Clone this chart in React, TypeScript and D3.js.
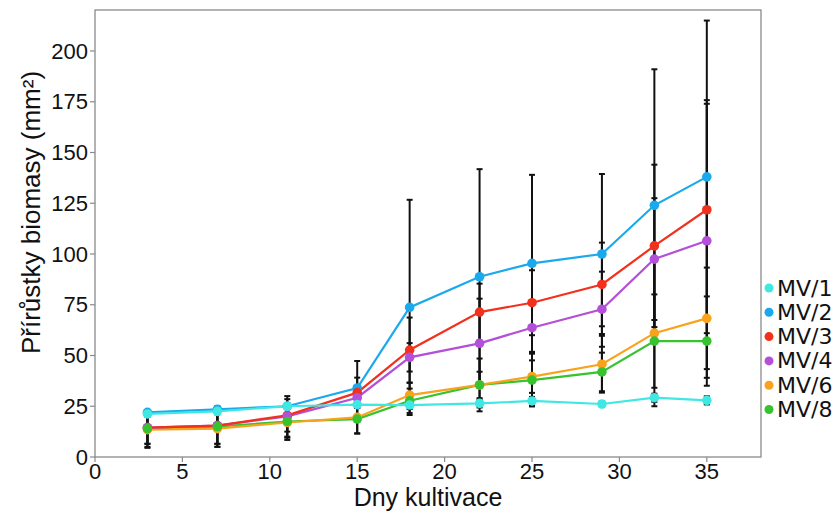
import React from "react";
import * as d3 from "d3";

const days = [3, 7, 11, 15, 18, 22, 25, 29, 32, 35];
const seriesNames = ["MV/1", "MV/2", "MV/3", "MV/4", "MV/6", "MV/8"];
const seriesColors = ["#3fe8e3", "#1aa9ec", "#f2311d", "#b34fd8", "#f9a21c", "#37c22f"];

const mv1 = [21.2, 22.5, 25, 25.8, 25.6, 26.4, 27.6, 26.1, 29.2, 27.9];
const mv2 = [22, 23.5, 25, 34, 73.7, 88.8, 95.4, 100, 124, 138];
const mv3 = [14.5, 15.5, 20.5, 31.7, 52.7, 71.4, 76, 85, 104, 121.8];
const mv4 = [14.5, 15.5, 20, 29.2, 49.1, 56, 63.7, 72.8, 97.5, 106.5];
const mv6 = [13.5, 14, 17, 19.5, 30.5, 35.5, 39.6, 45.7, 61, 68.3];
const mv8 = [14, 15, 17.5, 18.7, 27.7, 35.5, 37.9, 41.9, 57.1, 57.1];

const mv1sd = [1.5, 1.5, 1.4, 1.5, 2, 2, 2, 1.5, 2, 2];
const mv2sd = [1, 1, 1, 13.3, 53, 53, 43.6, 39.4, 67, 77];
const mv3sd = [8, 9, 8, 7.4, 16, 14, 16, 20.6, 40, 54];
const mv4sd = [8, 9, 10, 5, 7, 22, 12.3, 18.5, 30, 67.5];
const mv6sd = [9, 9, 8.6, 8, 6, 13, 8, 14, 36, 25];
const mv8sd = [9, 10, 8, 7, 6, 6.5, 13, 9.5, 23, 22];

const xTicks = [0, 5, 10, 15, 20, 25, 30, 35];
const yTicks = [0, 25, 50, 75, 100, 125, 150, 175, 200];

const seriesValues = [mv1, mv2, mv3, mv4, mv6, mv8];
const seriesSd = [mv1sd, mv2sd, mv3sd, mv4sd, mv6sd, mv8sd];

const W = 837;
const H = 511;
const left = 95;
const right = 761;
const top = 10;
const bottom = 457;

export default function App() {
  const x = d3.scaleLinear().domain([0, 38.1]).range([left, right]);
  const y = d3.scaleLinear().domain([0, 220.2]).range([bottom, top]);
  const line = d3
    .line<number>()
    .x((_, i) => x(days[i]))
    .y((v) => y(v));

  const axisColor = "#8a8a8a";
  const tickFont = "'Liberation Sans', Arial, sans-serif";
  const markerOrder = [1, 2, 3, 4, 5, 0];

  return (
    <svg
      width={W}
      height={H}
      style={{ position: "absolute", left: 0, top: 0, background: "#fff" }}
    >
      {/* frame */}
      <rect
        x={left}
        y={top}
        width={right - left}
        height={bottom - top}
        fill="none"
        stroke={axisColor}
        strokeWidth={1.3}
      />
      {/* y ticks */}
      {yTicks.map((t) => (
        <g key={"y" + t}>
          <line x1={left - 5} x2={left} y1={y(t)} y2={y(t)} stroke={axisColor} strokeWidth={1.2} />
          <text
            x={left - 7}
            y={y(t)}
            textAnchor="end"
            dominantBaseline="central"
            fontFamily={tickFont}
            fontSize={22}
            fill="#111"
          >
            {t}
          </text>
        </g>
      ))}
      {/* x ticks */}
      {xTicks.map((t) => (
        <g key={"x" + t}>
          <line x1={x(t)} x2={x(t)} y1={bottom} y2={bottom + 5} stroke={axisColor} strokeWidth={1.2} />
          <text
            x={x(t)}
            y={bottom + 21.5}
            textAnchor="middle"
            fontFamily={tickFont}
            fontSize={22}
            fill="#111"
          >
            {t}
          </text>
        </g>
      ))}
      {/* axis titles */}
      <text
        x={428}
        y={505.5}
        textAnchor="middle"
        fontFamily={tickFont}
        fontSize={25}
        fill="#111"
      >
        Dny kultivace
      </text>
      <text
        transform={`translate(40, ${(top + bottom) / 2 - 21}) rotate(-90)`}
        textAnchor="middle"
        fontFamily={tickFont}
        fontSize={26}
        fill="#111"
      >
        Přírůstky biomasy (mm²)
      </text>

      {/* lines */}
      {seriesValues
        .map((vals, si) => ({ vals, si }))
        .reverse()
        .map(({ vals, si }) => (
          <path
            key={"l" + si}
            d={line(vals) || ""}
            fill="none"
            stroke={seriesColors[si]}
            strokeWidth={2.2}
          />
        ))}

      {/* error bars */}
      {seriesValues.map((vals, si) =>
        vals.map((v, i) => {
          const sd = seriesSd[si][i];
          const cx = x(days[i]);
          const y1 = y(v + sd);
          const y0 = y(Math.max(0, v - sd));
          return (
            <g key={"e" + si + "-" + i} stroke="#111" strokeWidth={2}>
              <line x1={cx} x2={cx} y1={y1} y2={y0} />
              <line x1={cx - 3} x2={cx + 3} y1={y1} y2={y1} />
              <line x1={cx - 3} x2={cx + 3} y1={y0} y2={y0} />
            </g>
          );
        })
      )}

      {/* markers */}
      {markerOrder.map((si) =>
        seriesValues[si].map((v, i) => (
          <circle
            key={"m" + si + "-" + i}
            cx={x(days[i])}
            cy={y(v)}
            r={4.8}
            fill={seriesColors[si]}
          />
        ))
      )}

      {/* legend */}
      {seriesNames.map((name, i) => {
        const ly = 288 + i * 24.3;
        return (
          <g key={"lg" + name}>
            <circle cx={769} cy={ly} r={4.5} fill={seriesColors[i]} />
            <text
              x={777}
              y={ly}
              dominantBaseline="central"
              fontFamily="'DejaVu Sans', Verdana, sans-serif"
              fontSize={22}
              fill="#111"
            >
              {name}
            </text>
          </g>
        );
      })}
    </svg>
  );
}
